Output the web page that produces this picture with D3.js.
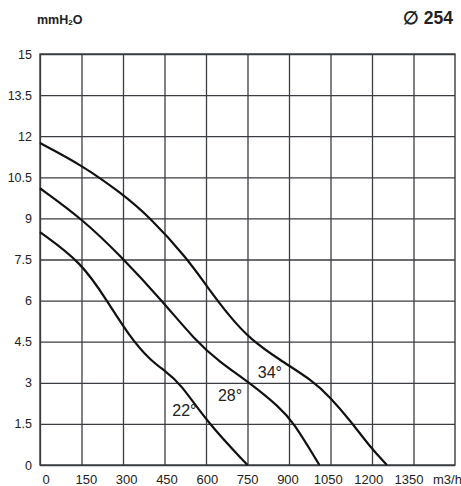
<!DOCTYPE html>
<html>
<head>
<meta charset="utf-8">
<script src="https://cdn.jsdelivr.net/npm/d3@7"></script>
<style>
  body { margin: 0; background: #fff; }
  svg { display: block; font-family: "Liberation Sans Narrow", "Arial Narrow", "Liberation Sans", Arial, sans-serif; }
  .tick text { font-size: 12.5px; fill: #222; }
  .tick line { stroke: #3a3d42; stroke-width: 1.3; }
  .xlabel { font-size: 13px; fill: #222; }
</style>
</head>
<body>
<div id="chart"></div>
<script>
var svgWidth = 461;
var svgHeight = 486;

var margin = { top: 54, right: 6, bottom: 21, left: 40 };
var chartWidth = 455 - margin.left;
var chartHeight = svgHeight - margin.top - margin.bottom;

// ticks
var xTicks = [0, 150, 300, 450, 600, 750, 900, 1050, 1200, 1350];
var yTicks = [0, 1.5, 3, 4.5, 6, 7.5, 9, 10.5, 12, 13.5, 15];
var yTickLabels = ["0", "1.5", "3", "4.5", "6", "7.5", "9", "10.5", "12", "13.5", "15"];

// curves (flow m3/h, pressure mmH2O)
var flow22 = [0, 150, 242, 325, 398, 450, 506, 605, 750];
var press22 = [8.5, 7.4, 6.0, 4.67, 3.83, 3.45, 3.0, 1.55, 0];

var flow28 = [0, 150, 289, 445, 560, 650, 754, 867, 915, 1010];
var press28 = [10.1, 9.0, 7.66, 5.95, 4.56, 3.75, 3.03, 2.1, 1.57, 0];

var flow34 = [0, 150, 289, 397, 531, 608, 687, 759, 867, 987, 1048, 1120, 1193, 1254];
var press34 = [11.75, 10.95, 9.96, 9.05, 7.55, 6.45, 5.4, 4.6, 3.83, 3.07, 2.48, 1.64, 0.66, 0];

var curveNames = ["22°", "28°", "34°"];
var labelFlow = [522, 687, 831];
var labelPress = [1.8, 2.35, 3.18];

var svg = d3.select("#chart")
  .append("svg")
  .attr("width", svgWidth)
  .attr("height", svgHeight);

var chartGroup = svg.append("g")
  .attr("transform", `translate(${margin.left}, ${margin.top})`);

var xScale = d3.scaleLinear().domain([0, 1500]).range([0, chartWidth]);
var yScale = d3.scaleLinear().domain([0, 15]).range([chartHeight, 0]);
// printed labels in the scan drift a little left of the grid lines
var xLabelScale = d3.scaleLinear().domain([0, 1350]).range([6, 369]);

// vertical grid
var xAxis = chartGroup.append("g")
  .attr("transform", `translate(0, ${chartHeight})`)
  .call(d3.axisBottom(xScale)
    .tickValues(xTicks)
    .tickSize(-chartHeight)
    .tickFormat(""));
xAxis.select(".domain").remove();

chartGroup.append("g")
  .selectAll("text")
  .data(xTicks)
  .enter()
  .append("text")
  .attr("class", "xlabel")
  .attr("x", d => xLabelScale(d))
  .attr("y", chartHeight + 19)
  .attr("text-anchor", "middle")
  .text(d => d);

// horizontal grid + y labels
var yAxis = chartGroup.append("g")
  .call(d3.axisLeft(yScale)
    .tickValues(yTicks)
    .tickSize(-chartWidth)
    .tickPadding(8)
    .tickFormat((d, i) => yTickLabels[i]));
yAxis.select(".domain").remove();

chartGroup.append("rect")
  .attr("x", 0).attr("y", 0)
  .attr("width", chartWidth).attr("height", chartHeight)
  .attr("fill", "none")
  .attr("stroke", "#3a3d42")
  .attr("stroke-width", 1.4);

var line = d3.line()
  .x(d => xScale(d[0]))
  .y(d => yScale(d[1]))
  .curve(d3.curveBasis);

[[flow22, press22], [flow28, press28], [flow34, press34]].forEach(c => {
  chartGroup.append("path")
    .datum(d3.zip(c[0], c[1]))
    .attr("d", line)
    .attr("fill", "none")
    .attr("stroke", "#111")
    .attr("stroke-width", 2.2);
});

chartGroup.selectAll(".clabel")
  .data(curveNames)
  .enter()
  .append("text")
  .attr("class", "clabel")
  .attr("x", (d, i) => xScale(labelFlow[i]))
  .attr("y", (d, i) => yScale(labelPress[i]))
  .attr("text-anchor", "middle")
  .style("font-family", "'Liberation Sans', Arial, sans-serif")
  .style("font-size", "16px")
  .attr("fill", "#222")
  .text(d => d);

// unit labels
svg.append("text")
  .attr("class", "xlabel")
  .attr("x", 433).attr("y", 484)
  .text("m3/h");

var unit = svg.append("text")
  .attr("x", 37).attr("y", 24)
  .style("font-family", "'Liberation Sans', Arial, sans-serif")
  .style("font-size", "12.5px")
  .style("font-weight", "bold")
  .attr("fill", "#222");
unit.append("tspan").text("mmH");
unit.append("tspan").attr("font-size", "8px").attr("dy", 1).text("2");
unit.append("tspan").attr("dy", -1).text("O");

svg.append("text")
  .attr("x", 453).attr("y", 24)
  .attr("text-anchor", "end")
  .style("font-family", "'Liberation Sans', Arial, sans-serif")
  .style("font-size", "17.5px")
  .style("font-weight", "bold")
  .attr("fill", "#222")
  .text("\u2205 254");
</script>
</body>
</html>
